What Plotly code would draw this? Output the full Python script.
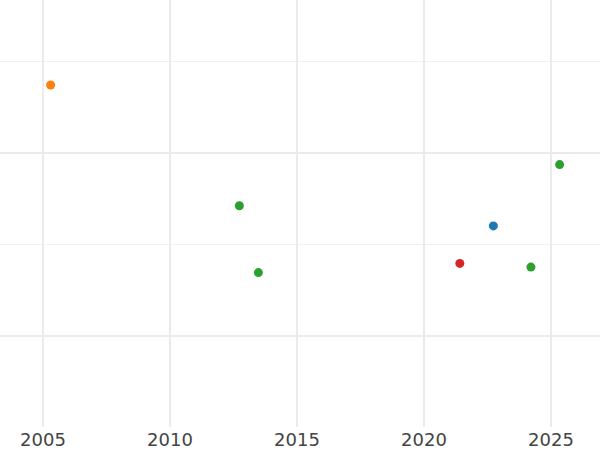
import plotly.graph_objects as go

# one list per colour group (plotly default palette order)
groups = ['A', 'B', 'C', 'D']
colors = ['#1f77b4', '#ff7f0e', '#2ca02c', '#d62728']

years_a = [2022.73]
vals_a = [1.20]

years_b = [2005.30]
vals_b = [2.74]

years_c = [2012.73, 2013.48, 2024.21, 2025.34]
vals_c = [1.42, 0.69, 0.75, 1.87]

years_d = [2021.41]
vals_d = [0.79]

xs = [years_a, years_b, years_c, years_d]
ys = [vals_a, vals_b, vals_c, vals_d]

fig = go.Figure()
for name, col, x, y in zip(groups, colors, xs, ys):
    fig.add_trace(go.Scatter(x=x, y=y, mode='markers', name=name,
                             marker=dict(size=9, color=col)))

fig.update_layout(
    width=600, height=450,
    template='none',
    showlegend=False,
    plot_bgcolor='white',
    paper_bgcolor='white',
    margin=dict(l=0, r=0, t=0, b=23, pad=0),
    font=dict(family='DejaVu Sans', size=18, color='#444'),
)
fig.update_xaxes(range=[2003.307, 2026.929], dtick=5, tick0=2005,
                 showgrid=True, gridcolor='#ebebeb', gridwidth=2,
                 zeroline=False, showline=False, ticks='',
                 automargin=False)
fig.update_yaxes(range=[-0.998, 3.669], dtick=2, tick0=0,
                 showgrid=True, gridcolor='#ebebeb', gridwidth=2,
                 minor=dict(dtick=1, tick0=0, showgrid=True,
                            gridcolor='#f0f0f0', gridwidth=1),
                 showticklabels=False, zeroline=False, showline=False,
                 ticks='', automargin=False)

# page body has an 8px default margin, drop it so the figure sits at 0,0
fig.write_html("out.html", config={'displayModeBar': False},
               post_script="document.body.style.margin='0';")
